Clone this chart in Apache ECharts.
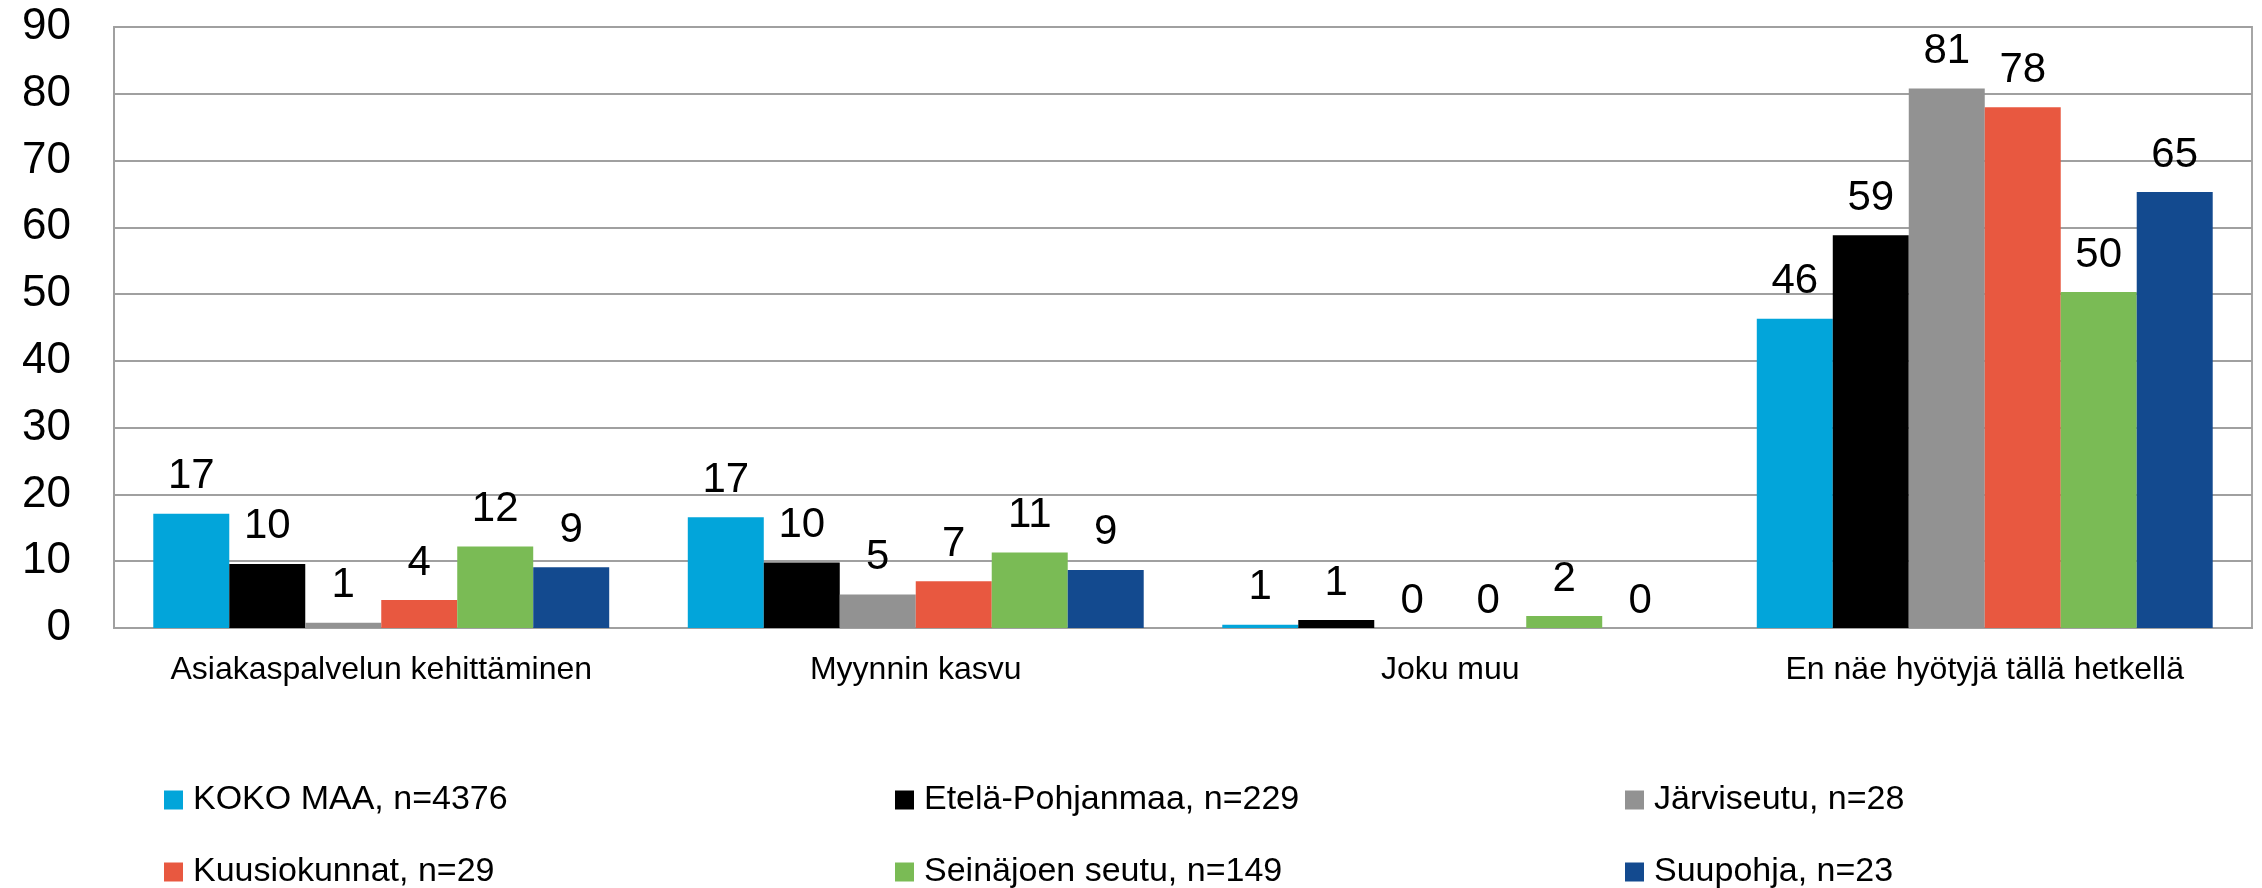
<!DOCTYPE html>
<html>
<head>
<meta charset="utf-8">
<script src="https://cdn.jsdelivr.net/npm/echarts@6/dist/echarts.min.js"></script>
<style>
  html, body { margin: 0; padding: 0; background: #fff; }
  #chart { width: 2262px; height: 888px; }
</style>
</head>
<body>
<div id="chart"></div>
<script>
const categories = ['Asiakaspalvelun kehittäminen', 'Myynnin kasvu', 'Joku muu', 'En näe hyötyjä tällä hetkellä'];
const seriesNames = ['KOKO MAA, n=4376', 'Etelä-Pohjanmaa, n=229', 'Järviseutu, n=28', 'Kuusiokunnat, n=29', 'Seinäjoen seutu, n=149', 'Suupohja, n=23'];
const kokoMaa = [17.1, 16.6, 0.5, 46.3];
const etelaPohjanmaa = [9.6, 9.8, 1.2, 58.8];
const jarviseutu = [0.8, 5.0, 0, 80.8];
const kuusiokunnat = [4.2, 7.0, 0, 78.0];
const seinajoenSeutu = [12.2, 11.3, 1.8, 50.3];
const suupohja = [9.1, 8.7, 0, 65.3];
const yTicks = [0, 90, 10];

const colors = ['#02a5da', '#000000', '#929292', '#e85840', '#7abb55', '#134a8f'];
const font = '"Liberation Sans", Arial, sans-serif';

const chart = echarts.init(document.getElementById('chart'));

const allValues = [kokoMaa, etelaPohjanmaa, jarviseutu, kuusiokunnat, seinajoenSeutu, suupohja];

const series = allValues.map((vals, i) => ({
    name: seriesNames[i],
    type: 'bar',
    barGap: '0%',
    barCategoryGap: '14.7%',
    itemStyle: { color: colors[i] },
    // zero bars get their label closer to the axis, like in the original
    data: vals.map(v => v === 0 ? { value: v, label: { distance: 6 } } : v),
    label: {
        show: true,
        position: 'top',
        distance: 16,
        color: '#000',
        fontFamily: font,
        fontSize: 42,
        formatter: p => Math.round(p.value)
    }
}));

// legend: 3 columns x 2 rows, one legend component per item
const legendLefts = [164, 895, 1625];
const legendTops = [783, 855];
const legends = seriesNames.map((name, k) => ({
    left: legendLefts[k % 3],
    top: legendTops[Math.floor(k / 3)],
    padding: 0,
    icon: 'rect',
    itemWidth: 19,
    itemHeight: 19,
    data: [name],
    textStyle: {
        color: '#000',
        fontFamily: font,
        fontSize: 34,
        lineHeight: 34,
        padding: [0, 0, 0, 5]
    }
}));

const options = {
    animation: false,
    color: colors,
    grid: {
        left: 114,
        right: 10,
        top: 27,
        bottom: 260,
        show: true,
        borderColor: '#a6a6a6',
        borderWidth: 2
    },
    legend: legends,
    xAxis: {
        type: 'category',
        data: categories,
        axisTick: { show: false },
        axisLine: { lineStyle: { color: '#a0a0a0', width: 2 } },
        axisLabel: {
            interval: 0,
            color: '#000',
            fontFamily: font,
            fontSize: 32,
            margin: 26
        }
    },
    yAxis: {
        type: 'value',
        min: yTicks[0],
        max: yTicks[1],
        interval: yTicks[2],
        axisLine: { show: true, lineStyle: { color: '#a0a0a0', width: 2 } },
        axisTick: { show: false },
        splitLine: { lineStyle: { color: '#a0a0a0', width: 2 } },
        axisLabel: {
            color: '#000',
            fontFamily: font,
            fontSize: 44,
            margin: 43
        }
    },
    series: series
};

chart.setOption(options);
</script>
</body>
</html>
